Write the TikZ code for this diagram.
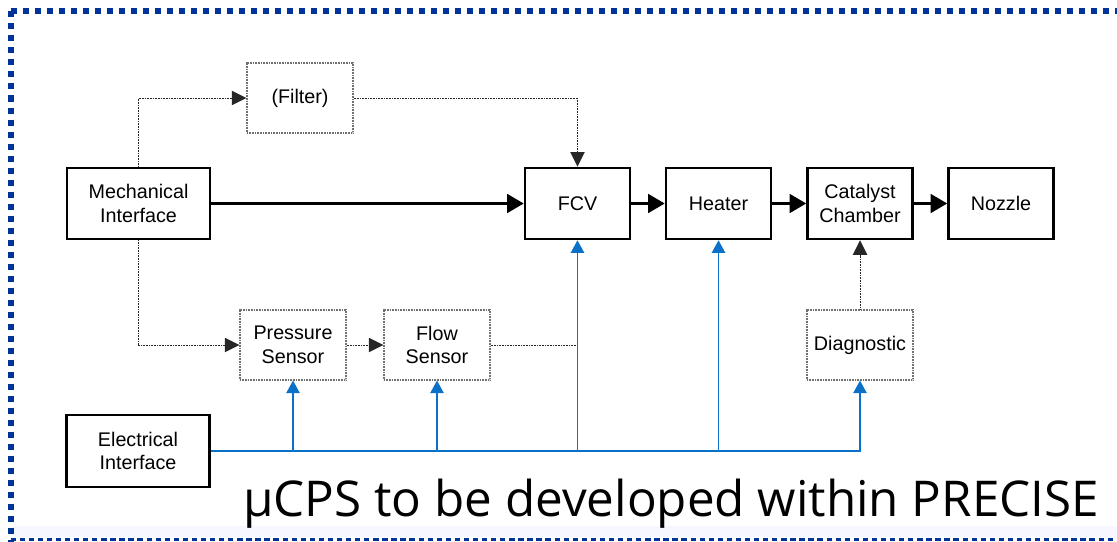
\documentclass[tikz,border=0pt]{standalone}
\usepackage{fontspec}
\setmainfont{Liberation Sans}
\newfontfamily\titlefont{Open Sans}
\usetikzlibrary{arrows.meta}
\definecolor{frameblue}{HTML}{003399}
\definecolor{sigblue}{HTML}{0A70C8}
\definecolor{boxgray}{HTML}{707070}
\begin{document}
\begin{tikzpicture}[x=0.75pt,y=-0.75pt,
  every node/.style={font=\fontsize{14.8pt}{17.8pt}\selectfont, align=center, inner sep=0pt},
  mainbox/.style={draw=black, line width=1.9pt, minimum width=78.75pt, minimum height=53.25pt},
  widebox/.style={mainbox, minimum width=107.25pt},
  dotbox/.style={draw=boxgray, line width=0.8pt, dash pattern=on 0.6pt off 0.6pt, minimum width=79.5pt, minimum height=52.5pt},
  flowline/.style={line width=2.2pt, -{Triangle[length=12.5pt,width=14pt]}},
  thinline/.style={draw=black!85, line width=0.7pt, dash pattern=on 0.7pt off 0.5pt},
  thinarrow/.style={thinline, -{Triangle[length=11pt,width=11pt,line width=0pt]}},
  sigline/.style={draw=sigblue, line width=1.3pt},
  sigarrow/.style={sigline, -{Triangle[length=9.5pt,width=10pt]}}
]
\useasboundingbox (0,0) rectangle (1117,542);
\fill[white] (0,0) rectangle (1117,542);
% faint band at bottom
\fill[blue!3] (13,526) rectangle (1117,537);
% frame
\draw[frameblue, line width=4.5pt, dash pattern=on 4.5pt off 4.5pt] (10.5,11.5) -- (1117,11.5);
\draw[frameblue, line width=4.5pt, dash pattern=on 4.5pt off 4.5pt] (10.5,11.5) -- (10.5,542);
\draw[frameblue, line width=2.5pt, dash pattern=on 4pt off 2.8pt] (10.5,539.5) -- (1117,539.5);

% nodes
\node[widebox] (mech) at (138.5,203.5) {Mechanical\\Interface};
\node[dotbox] (filter) at (300,98) {(Filter)};
\node[mainbox] (fcv) at (577.5,203.5) {FCV};
\node[mainbox] (heater) at (718.5,203.5) {Heater};
\node[mainbox] (cat) at (860,203.5) {Catalyst\\Chamber};
\node[mainbox] (nozzle) at (1001,203.5) {Nozzle};
\node[dotbox] (press) at (293,345) {Pressure\\Sensor};
\node[dotbox] (flow) at (437,345) {Flow\\Sensor};
\node[dotbox] (diag) at (860,345) {Diagnostic};
\node[widebox, minimum height=54pt] (elec) at (138,451) {Electrical\\Interface};

% mechanical paths
\draw[thinarrow] (mech.north) |- (filter.west);
\draw[thinarrow] (filter.east) -| (fcv.north);
\draw[flowline] (mech.east) -- (fcv.west);
\draw[flowline] (fcv.east) -- (heater.west);
\draw[flowline] (heater.east) -- (cat.west);
\draw[flowline] (cat.east) -- (nozzle.west);
\draw[thinarrow] (mech.south) |- (press.west);
\draw[thinarrow] (press.east) -- (flow.west);
\coordinate (fj) at (fcv.south |- flow.east);
\draw[thinline] (flow.east) -- (fj);
\draw[thinarrow] (diag.north) -- (cat.south);

% electrical paths
\coordinate (ej) at (diag.south |- elec.east);
\draw[sigarrow] (elec.east) -- (ej) -- (diag.south);
\draw[sigarrow] (press.south |- elec.east) -- (press.south);
\draw[sigarrow] (flow.south |- elec.east) -- (flow.south);
\draw[sigarrow] (fcv.south |- elec.east) -- (fcv.south);
\draw[sigarrow] (heater.south |- elec.east) -- (heater.south);

% title
\node[anchor=base west, font=\titlefont\fontsize{37pt}{40pt}\selectfont] (title) at (243,516) {µCPS to be developed within PRECISE};
\end{tikzpicture}
\end{document}
